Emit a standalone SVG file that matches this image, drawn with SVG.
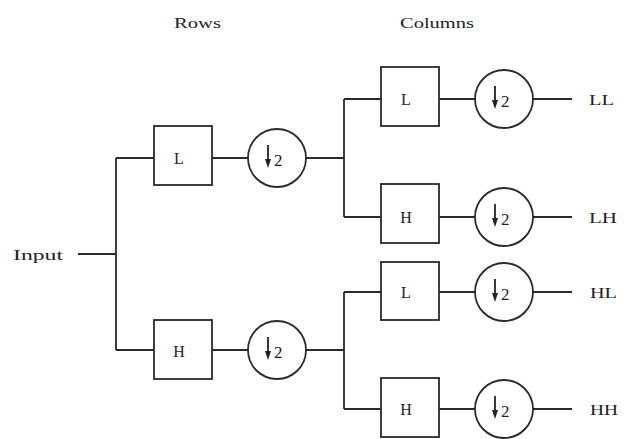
<svg xmlns="http://www.w3.org/2000/svg" width="629" height="439" viewBox="0 0 629 439">
<defs>
<style>
.ln{stroke:#2a2a2a;stroke-width:1.8;fill:none}
.bx{stroke:#2a2a2a;stroke-width:1.8;fill:#fff}
.t{font-family:"Liberation Serif","Times New Roman",serif;font-size:15px;fill:#222}
.b{font-family:"Liberation Serif","Times New Roman",serif;font-size:16px;fill:#222;text-anchor:middle}
.two{font-family:"Liberation Serif","Times New Roman",serif;font-size:17px;fill:#222}
</style>
<g id="down2">
<circle cx="0" cy="0" r="29" class="bx"/>
<line x1="-9" y1="-13" x2="-9" y2="4" stroke="#222" stroke-width="1.8"/>
<polygon points="-12,1 -6,1 -9,10" fill="#222"/>
<text x="-3" y="8" class="two">2</text>
</g>
</defs>
<rect width="629" height="439" fill="#fff"/>
<g id="connectors">
<path class="ln" d="M78,254 H116 M116,158 V350 M116,158 H154 M116,350 H154"/>
<path class="ln" d="M212,158 H248 M212,350 H248"/>
<path class="ln" d="M306,158 H344 M306,350 H344"/>
<path class="ln" d="M344,99 V217 M344,99 H381 M344,217 H381"/>
<path class="ln" d="M344,292 V409 M344,292 H381 M344,409 H381"/>
<path class="ln" d="M439,99 H475 M439,217 H475 M439,292 H475 M439,409 H475"/>
<path class="ln" d="M533,99 H572 M533,217 H572 M533,292 H572 M533,409 H572"/>
</g>
<g id="labels">
<text class="t" x="174" y="28" textLength="47" lengthAdjust="spacingAndGlyphs">Rows</text>
<text class="t" x="400" y="28" textLength="74" lengthAdjust="spacingAndGlyphs">Columns</text>
<text class="t" x="13" y="260" textLength="50" lengthAdjust="spacingAndGlyphs">Input</text>
</g>
<g id="row-L"><rect class="bx" x="154" y="126" width="58" height="59"/><text class="b" x="179" y="164">L</text></g>
<g id="row-H"><rect class="bx" x="154" y="320" width="58" height="59"/><text class="b" x="179" y="357">H</text></g>
<g id="row-L-down"><use href="#down2" x="277" y="158"/></g>
<g id="row-H-down"><use href="#down2" x="277" y="350"/></g>
<g id="col-LL"><rect class="bx" x="381" y="67" width="58" height="59"/><text class="b" x="406" y="105">L</text></g>
<g id="col-LH"><rect class="bx" x="381" y="184" width="58" height="59"/><text class="b" x="406" y="223">H</text></g>
<g id="col-HL"><rect class="bx" x="381" y="262" width="58" height="58"/><text class="b" x="406" y="298">L</text></g>
<g id="col-HH"><rect class="bx" x="381" y="378" width="58" height="59"/><text class="b" x="406" y="415">H</text></g>
<g id="col-LL-down"><use href="#down2" x="504" y="99"/></g>
<g id="col-LH-down"><use href="#down2" x="504" y="217"/></g>
<g id="col-HL-down"><use href="#down2" x="504" y="292"/></g>
<g id="col-HH-down"><use href="#down2" x="504" y="409"/></g>
<g id="out-LL"><text class="t" x="589" y="105" textLength="25" lengthAdjust="spacingAndGlyphs">LL</text></g>
<g id="out-LH"><text class="t" x="589" y="223" textLength="28" lengthAdjust="spacingAndGlyphs">LH</text></g>
<g id="out-HL"><text class="t" x="590" y="298" textLength="27" lengthAdjust="spacingAndGlyphs">HL</text></g>
<g id="out-HH"><text class="t" x="590" y="415" textLength="28" lengthAdjust="spacingAndGlyphs">HH</text></g>
</svg>
